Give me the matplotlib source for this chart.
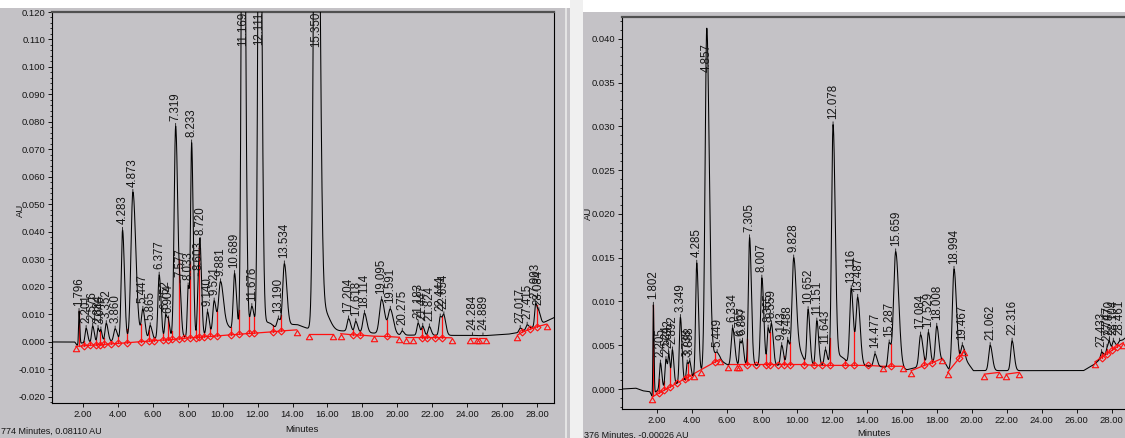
import numpy as np
import matplotlib
matplotlib.use("Agg")
import matplotlib.pyplot as plt
from matplotlib.patches import Rectangle
from matplotlib.path import Path
from matplotlib.ticker import MultipleLocator, FormatStrFormatter

plt.rcParams['font.family'] = ['Liberation Sans', 'DejaVu Sans']

# ---------------- Run A (left chromatogram) ----------------
a_rt = [1.796, 2.201, 2.576, 2.884, 3.046, 3.352, 3.860, 4.283, 4.873, 5.447,
        5.865, 6.377, 6.752, 6.904, 7.319, 7.577, 8.033, 8.233, 8.603, 8.720,
        9.140, 9.521, 9.881, 10.689, 11.169, 11.676, 12.111, 13.190, 13.534, 15.350,
        17.204, 17.618, 18.114, 19.095, 19.591, 20.275, 21.183, 21.447, 21.824, 22.444,
        22.654, 24.284, 24.889, 27.017, 27.415, 27.903, 28.084]
a_height = [0.0112, 0.0050, 0.0058, 0.0050, 0.0045, 0.0068, 0.0048, 0.0407, 0.0545, 0.0120,
            0.0060, 0.0244, 0.0100, 0.0085, 0.0785, 0.0215, 0.0205, 0.0725, 0.0240, 0.0370,
            0.0110, 0.0150, 0.0220, 0.0250, 0.2600, 0.0130, 0.2300, 0.0085, 0.0285, 0.3000,
            0.0085, 0.0075, 0.0105, 0.0155, 0.0120, 0.0040, 0.0068, 0.0058, 0.0056, 0.0092,
            0.0100, 0.0024, 0.0022, 0.0050, 0.0062, 0.0140, 0.0115]
a_sigma = [0.028, 0.06, 0.06, 0.05, 0.05, 0.07, 0.08, 0.075, 0.11, 0.08,
           0.07, 0.07, 0.055, 0.055, 0.085, 0.055, 0.05, 0.06, 0.05, 0.06,
           0.07, 0.08, 0.11, 0.075, 0.085, 0.09, 0.085, 0.08, 0.095, 0.12,
           0.08, 0.07, 0.09, 0.12, 0.12, 0.07, 0.07, 0.06, 0.07, 0.07,
           0.08, 0.06, 0.06, 0.07, 0.07, 0.06, 0.07]
# unlabeled tailing components
a_tail_rt = [5.10, 10.20, 12.60, 14.00, 15.80]
a_tail_amp = [0.0030, 0.0030, 0.0030, 0.0015, 0.0070]
a_tail_sigma = [0.15, 0.20, 0.20, 0.35, 0.22]
# detector baseline drift
a_bg_t = [0.25, 1.55, 1.68, 1.95, 4.0, 7.0, 10.0, 13.0, 14.3, 15.0, 16.5, 17.0,
          18.7, 20.2, 23.0, 25.0, 26.3, 27.0, 28.0, 29.0]
a_bg_v = [0.0, 0.0, -0.0012, -0.0004, 0.0004, 0.0015, 0.0028, 0.0042, 0.0050, 0.0045,
          0.0040, 0.0040, 0.0032, 0.0025, 0.0024, 0.0023, 0.0028, 0.0035, 0.0060, 0.0090]
# integration events: time, baseline value, kind (T = start/end, D = drop line), segment
a_ev_t = [1.62, 2.08, 2.42, 2.77, 3.00, 3.22, 3.62, 4.04, 4.52, 5.32, 5.80, 6.08, 6.62,
          6.87, 7.09, 7.51, 7.80, 8.14, 8.49, 8.67, 8.94, 9.29, 9.70, 10.47, 10.94, 11.53,
          11.82, 12.87, 13.35, 14.24,
          14.96, 16.30,
          16.76, 17.44, 17.86, 18.68, 19.39, 20.11,
          20.49, 20.91, 21.39, 21.67, 22.15, 22.57, 23.10,
          24.15, 24.53,
          24.67, 25.05,
          26.86, 27.14, 27.58, 27.96, 28.54]
a_ev_v = [-0.0016, -0.0014, -0.0012, -0.0011, -0.0010, -0.0009, -0.0007, -0.0005, -0.0003,
          0.0001, 0.0003, 0.0005, 0.0007, 0.0008, 0.0009, 0.0011, 0.0013, 0.0015, 0.0016,
          0.0017, 0.0019, 0.0020, 0.0022, 0.0026, 0.0028, 0.0031, 0.0032, 0.0037, 0.0040,
          0.0044,
          0.0030, 0.0030,
          0.0030, 0.0026, 0.0025, 0.0021, 0.0020, 0.0017,
          0.0016, 0.0016, 0.0016, 0.0016, 0.0016, 0.0016, 0.0015,
          0.0014, 0.0014,
          0.0014, 0.0014,
          0.0025, 0.0036, 0.0046, 0.0055, 0.0065]
a_ev_kind = (['T'] + ['D'] * 28 + ['T']
             + ['T', 'T']
             + ['T', 'D', 'D', 'T', 'D', 'T']
             + ['T', 'T', 'D', 'D', 'D', 'D', 'T']
             + ['T', 'T']
             + ['T', 'T']
             + ['T', 'D', 'D', 'D', 'T'])
a_ev_seg = ([0] * 30 + [1] * 2 + [2] * 6 + [3] * 7 + [4] * 2 + [5] * 2 + [6] * 5)
a_cursor = "774 Minutes, 0.08110 AU"

# ---------------- Run B (right chromatogram) ----------------
b_rt = [1.802, 2.205, 2.524, 2.692, 2.892, 3.349, 3.738, 3.888, 4.285, 4.857,
        5.449, 6.334, 6.755, 6.897, 7.305, 8.007, 8.365, 8.559, 9.143, 9.488,
        9.828, 10.652, 11.151, 11.643, 12.078, 13.116, 13.487, 14.477, 15.287, 15.659,
        17.084, 17.529, 18.008, 18.994, 19.467, 21.062, 22.316, 27.433, 27.747, 27.870,
        28.104, 28.461]
b_height = [0.0096, 0.0030, 0.0034, 0.0040, 0.0045, 0.0082, 0.0030, 0.0032, 0.0144, 0.0412,
            0.0042, 0.0070, 0.0054, 0.0055, 0.0173, 0.0127, 0.0070, 0.0075, 0.0050, 0.0056,
            0.0150, 0.0091, 0.0078, 0.0045, 0.0302, 0.0115, 0.0105, 0.0040, 0.0053, 0.0157,
            0.0062, 0.0065, 0.0072, 0.0137, 0.0050, 0.0050, 0.0055, 0.0042, 0.0048, 0.0055,
            0.0055, 0.0055]
b_sigma = [0.025, 0.055, 0.055, 0.05, 0.055, 0.06, 0.05, 0.055, 0.065, 0.095,
           0.09, 0.08, 0.045, 0.055, 0.07, 0.075, 0.055, 0.07, 0.07, 0.07,
           0.10, 0.07, 0.07, 0.07, 0.085, 0.085, 0.095, 0.08, 0.07, 0.12,
           0.09, 0.07, 0.08, 0.095, 0.08, 0.085, 0.08, 0.06, 0.05, 0.05,
           0.06, 0.06]
b_tail_rt = [5.15, 10.15, 12.50]
b_tail_amp = [0.0012, 0.0015, 0.0010]
b_tail_sigma = [0.15, 0.15, 0.20]
b_bg_t = [0.0, 0.8, 1.2, 1.6, 1.72, 2.0, 4.0, 5.6, 6.1, 12.8, 14.5, 16.3, 17.5, 18.4,
          18.7, 19.6, 20.1, 23.0, 26.4, 27.0, 28.0, 29.0]
b_bg_v = [0.0, 0.0001, -0.0002, -0.0003, -0.0008, -0.0002, 0.0012, 0.0033, 0.0027, 0.0027,
          0.0026, 0.0022, 0.0028, 0.0033, 0.0022, 0.0035, 0.0021, 0.0021, 0.0021, 0.0028,
          0.0045, 0.0062]
b_ev_t = [1.73, 2.13, 2.43, 2.76, 3.14, 3.61, 3.79, 4.13, 4.55, 5.33, 5.61,
          6.07, 6.57, 6.72, 7.18, 7.65, 8.24, 8.47, 8.95, 9.27, 9.62, 10.44, 10.99, 11.47,
          11.90, 12.76, 13.29, 14.06, 14.92, 15.37, 16.10,
          16.54, 17.30, 17.75, 18.32,
          18.63, 19.28, 19.58,
          20.73, 21.57,
          21.98, 22.71,
          27.05, 27.44, 27.72, 28.01, 28.30, 28.67]
b_ev_v = [-0.0009, -0.00046, -0.00012, 0.00024, 0.00066, 0.00119, 0.00139, 0.00176, 0.00223,
          0.00309, 0.0034,
          0.0028, 0.0028, 0.0028, 0.0028, 0.0028, 0.0028, 0.0028, 0.0028, 0.0028, 0.0028,
          0.0028, 0.0027, 0.0027, 0.0027, 0.0027, 0.0027, 0.0027, 0.0026, 0.0026, 0.0026,
          0.0021, 0.0027, 0.0030, 0.0035,
          0.0019, 0.0035, 0.0045,
          0.0017, 0.0019,
          0.0017, 0.0019,
          0.0031, 0.0036, 0.0040, 0.0044, 0.0048, 0.0053]
b_ev_kind = (['T', 'D', 'D', 'D', 'D', 'D', 'D', 'T', 'T', 'D', 'T']
             + ['T', 'T', 'T', 'D', 'D', 'D', 'D', 'D', 'D', 'D', 'D', 'D', 'D', 'D', 'D',
                'D', 'D', 'T', 'D', 'T']
             + ['T', 'D', 'D', 'T']
             + ['T', 'D', 'T']
             + ['T', 'T']
             + ['T', 'T']
             + ['T', 'D', 'D', 'D', 'D', 'T'])
b_ev_seg = ([0] * 11 + [1] * 20 + [2] * 4 + [3] * 3 + [4] * 2 + [5] * 2 + [6] * 6)
b_cursor = "376 Minutes, -0.00026 AU"

# ---------------- drawing ----------------
W, H, DPI = 1125, 438, 100
GRAY = '#c4c2c6'
RED = '#ff1010'
INK = '#151515'
LABEL_PT = 8.3
TICK_PT = 6.8

TRI = Path([(0, 0), (-0.6, -1.0), (0.6, -1.0), (0, 0)],
           [Path.MOVETO, Path.LINETO, Path.LINETO, Path.CLOSEPOLY])


def fx(px):
    return px / W


def fy(py):
    return 1 - py / H


def shape(t, rt, s, tail=1.45):
    s_eff = np.where(t < rt, s, s * tail)
    return np.exp(-0.5 * ((t - rt) / s_eff) ** 2)


def build_trace(t, rt, h, sig, tl_rt, tl_amp, tl_sig, bg_t, bg_v):
    rt = np.asarray(rt, float)
    h = np.asarray(h, float)
    sig = np.asarray(sig, float)
    base_grid = np.interp(t, bg_t, bg_v)
    base_rt = np.interp(rt, bg_t, bg_v)
    tail_grid = np.zeros_like(t)
    tail_rt = np.zeros_like(rt)
    for r, a, s in zip(tl_rt, tl_amp, tl_sig):
        tail_grid += a * shape(t, r, s)
        tail_rt += a * shape(rt, r, s)
    M = shape(rt[:, None], rt[None, :], sig[None, :])
    target = h - base_rt - tail_rt
    amp = target.copy()
    for _ in range(400):
        resid = target - M @ amp
        amp = np.maximum(amp + 0.5 * resid, 0.05 * target)
    y = base_grid + tail_grid
    for r, a, s in zip(rt, amp, sig):
        y += a * shape(t, r, s)
    return y


def draw_panel(ax, xlim, ylim, ystep, yminor, rt, h, sig, tl_rt, tl_amp, tl_sig,
               bg_t, bg_v, ev_t, ev_v, ev_kind, ev_seg, ax_h_px):
    ax.set_facecolor(GRAY)
    ax.set_xlim(*xlim)
    ax.set_ylim(*ylim)
    t = np.linspace(xlim[0], xlim[1], 12000)
    y = build_trace(t, rt, h, sig, tl_rt, tl_amp, tl_sig, bg_t, bg_v)

    ev_t = np.asarray(ev_t, float)
    ev_v = np.asarray(ev_v, float)
    ev_kind = np.asarray(ev_kind)
    ev_seg = np.asarray(ev_seg)

    # integration baseline segments
    for g in np.unique(ev_seg):
        m = ev_seg == g
        ax.plot(ev_t[m], ev_v[m], color=RED, lw=0.9, zorder=2)
    # drop lines at resolved valleys
    for te, ve, k in zip(ev_t, ev_v, ev_kind):
        if k == 'D':
            ax.plot([te, te], [ve, np.interp(te, t, y)], color=RED, lw=0.9, zorder=2)
    # first peak drop line
    ax.plot([rt[0], rt[0]], [np.interp(rt[0], ev_t, ev_v), np.interp(rt[0], t, y)],
            color=RED, lw=0.9, zorder=2)

    ax.plot(t, y, color='black', lw=0.75, zorder=3)

    tri = ev_kind == 'T'
    ax.plot(ev_t[tri], ev_v[tri], ls='none', marker=TRI, ms=7.5, mfc='none',
            mec=RED, mew=0.8, zorder=4)
    ax.plot(ev_t[~tri], ev_v[~tri], ls='none', marker='D', ms=3.5, mfc='none',
            mec=RED, mew=0.8, zorder=4)

    # retention-time labels
    px_per_unit = ax_h_px / (ylim[1] - ylim[0])
    for r in rt:
        apex = float(np.interp(r, t, y))
        label = f"{r:.3f}"
        text_px = (len(label) - 0.5) * 0.556 * LABEL_PT * DPI / 72 + 8
        room_px = (ylim[1] - apex) * px_per_unit
        if apex >= ylim[1]:
            ax.annotate(label, xy=(r, ylim[1]), xytext=(0, 0), textcoords='offset points',
                        rotation=90, ha='center', va='top', fontsize=LABEL_PT,
                        color=INK, annotation_clip=False, zorder=5)
        elif room_px < text_px:
            ax.annotate(label, xy=(r, apex), xytext=(0, -10.5), textcoords='offset points',
                        rotation=90, ha='center', va='top', fontsize=LABEL_PT,
                        color=INK, zorder=5)
        else:
            ax.annotate(label, xy=(r, apex), xytext=(0, 4.0), textcoords='offset points',
                        rotation=90, ha='center', va='bottom', fontsize=LABEL_PT,
                        color=INK, zorder=5,
                        arrowprops=dict(arrowstyle='-', lw=0.6, color=INK,
                                        shrinkA=0, shrinkB=0))

    ax.xaxis.set_major_locator(MultipleLocator(2))
    ax.xaxis.set_major_formatter(FormatStrFormatter('%.2f'))
    ax.yaxis.set_major_locator(MultipleLocator(ystep))
    ax.yaxis.set_minor_locator(MultipleLocator(yminor))
    ax.yaxis.set_major_formatter(FormatStrFormatter('%.3f'))
    ax.tick_params(axis='both', which='major', direction='out', length=3.2, width=0.7,
                   labelsize=TICK_PT, colors=INK, pad=1.5)
    ax.tick_params(axis='y', which='minor', direction='out', length=1.6, width=0.6,
                   colors=INK)
    for side in ('left', 'bottom', 'right'):
        ax.spines[side].set_color('black')
        ax.spines[side].set_linewidth(0.8)
    ax.spines['top'].set_color('#505050')
    ax.spines['top'].set_linewidth(1.6)


fig = plt.figure(figsize=(W / DPI, H / DPI), dpi=DPI, facecolor='white')


def backdrop(x0, y_top, width, color):
    fig.patches.append(Rectangle((fx(x0), 0), fx(width), fy(y_top),
                                 transform=fig.transFigure, facecolor=color,
                                 edgecolor='none', zorder=-10))


# window backgrounds
backdrop(0, 8, 565, GRAY)
backdrop(565, 8, 2, '#e4e4e4')
backdrop(567, 8, 3, GRAY)
backdrop(570, 0, 13, '#f0f0f0')
backdrop(583, 12, W - 583, GRAY)

# left panel
axA = fig.add_axes([fx(52), fy(403), fx(554 - 52), (403 - 12) / H])
draw_panel(axA, (0.25, 28.95), (-0.0222, 0.1200), 0.01, 0.002,
           a_rt, a_height, a_sigma, a_tail_rt, a_tail_amp, a_tail_sigma,
           a_bg_t, a_bg_v, a_ev_t, a_ev_v, a_ev_kind, a_ev_seg, 403 - 12)

# right panel (runs past the window edge)
axB = fig.add_axes([fx(622), fy(409), fx(1129 - 622), (409 - 17) / H])
draw_panel(axB, (0.01, 29.0), (-0.00228, 0.04248), 0.005, 0.001,
           b_rt, b_height, b_sigma, b_tail_rt, b_tail_amp, b_tail_sigma,
           b_bg_t, b_bg_v, b_ev_t, b_ev_v, b_ev_kind, b_ev_seg, 409 - 17)
axB.spines['right'].set_visible(False)

# axis titles and cursor readouts
fig.text(fx(302), fy(429), "Minutes", fontsize=6.8, color=INK, ha='center', va='center')
fig.text(fx(874), fy(433), "Minutes", fontsize=6.8, color=INK, ha='center', va='center')
fig.text(fx(20), fy(210), "AU", fontsize=6.8, color=INK, ha='center', va='center', rotation=90)
fig.text(fx(588), fy(213), "AU", fontsize=6.8, color=INK, ha='center', va='center', rotation=90)
fig.text(fx(1), fy(431), a_cursor, fontsize=6.5, color=INK, ha='left', va='center')
fig.text(fx(584), fy(431), b_cursor, fontsize=6.5, color=INK, ha='left', va='top')

fig.savefig("out.png", dpi=DPI, facecolor='white')
